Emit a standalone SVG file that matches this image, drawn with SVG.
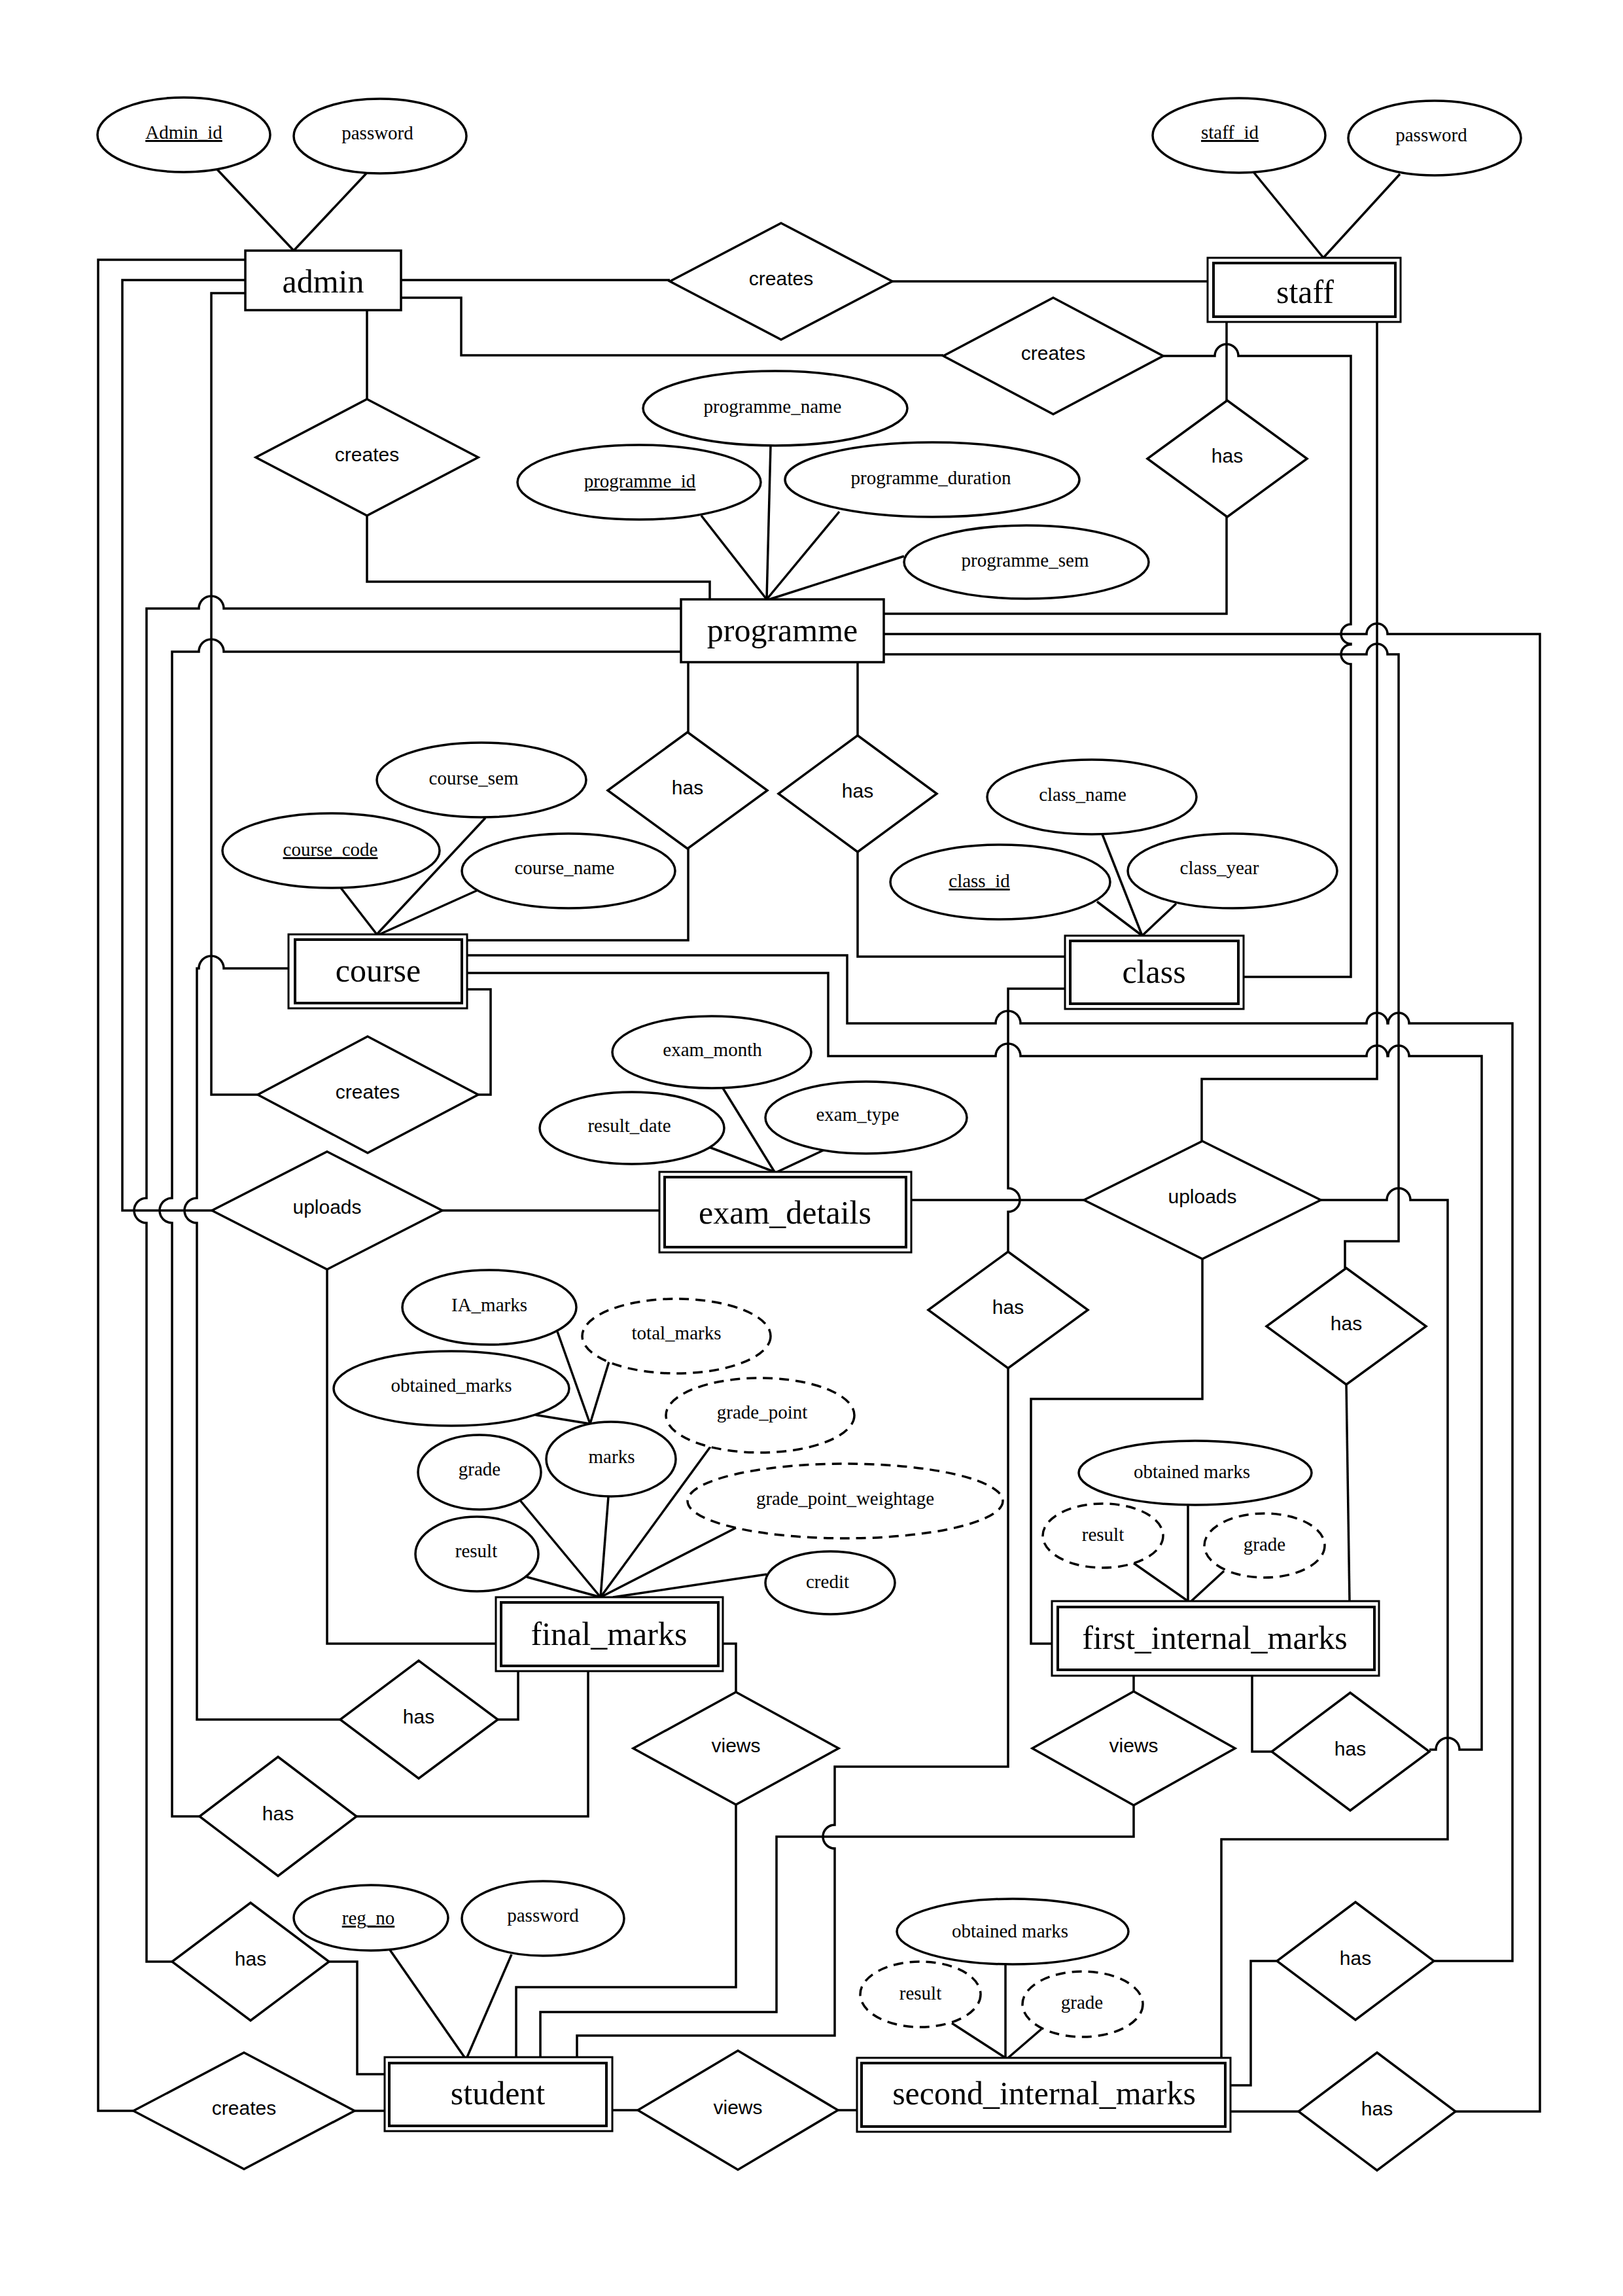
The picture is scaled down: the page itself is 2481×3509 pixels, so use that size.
<svg xmlns="http://www.w3.org/2000/svg" width="2481" height="3509" viewBox="0 0 2481 3509">
<style>
.bg{fill:#fff}
#connectors path{fill:none;stroke:#000;stroke-width:3.5;stroke-linejoin:miter}
.e{fill:#fff;stroke:#000;stroke-width:3.5}
.dash{stroke-dasharray:15 10}
.rel{fill:#fff;stroke:#000;stroke-width:3.5;stroke-linejoin:miter}
.ent{fill:#fff;stroke:#000;stroke-width:3.5}
.entout{fill:#fff;stroke:#000;stroke-width:3}
.entin{fill:none;stroke:#000;stroke-width:4}
.ta{font-family:"Liberation Serif","Times New Roman",serif;font-size:29px;text-anchor:middle;fill:#000}
.te{font-family:"Liberation Serif","Times New Roman",serif;font-size:50px;text-anchor:middle;fill:#000}
.tr{font-family:"Liberation Sans",Arial,sans-serif;font-size:30px;text-anchor:middle;fill:#000}
.u{text-decoration:underline}
</style>
<rect class="bg" x="0" y="0" width="2481" height="3509"/>
<g id="connectors">
<path d="M332,259 L449,383"/>
<path d="M560,265 L449,383"/>
<path d="M1917,264 L2023,394"/>
<path d="M2140,266 L2023,394"/>
<path d="M613,428 H1024"/>
<path d="M1364,430 H1846"/>
<path d="M613,455 H705 V543 H1442"/>
<path d="M1778,544 H1857 A18,18 0 0 1 1893,544 H2065 V954 A15,15 0 0 0 2065,984 V985 A15,15 0 0 0 2065,1015 V1493 H1901"/>
<path d="M1875,492 V612"/>
<path d="M1875,790 V938 H1351"/>
<path d="M2105,492 V1649 H1837 V1744"/>
<path d="M561,474 V610"/>
<path d="M561,788 V889 H1085 V916"/>
<path d="M1072,788 L1172,916"/>
<path d="M1178,681 L1172,916"/>
<path d="M1283,782 L1172,916"/>
<path d="M1382,850 L1176,916"/>
<path d="M375,397 H150 V3226 H204"/>
<path d="M542,3226 H588"/>
<path d="M375,428 H187 V1850 H324"/>
<path d="M676,1850 H1008"/>
<path d="M500,1940 V2512 H758"/>
<path d="M375,448 H323 V1673 H394"/>
<path d="M731,1673 H750 V1512 H714"/>
<path d="M1041,930 H342 A19,19 0 0 0 304,930 H224 V1831 A19,19 0 0 0 224,1869 V2998 H263"/>
<path d="M503,2998 H546 V3170 H588"/>
<path d="M1041,996 H342 A19,19 0 0 0 304,996 H263 V1831 A19,19 0 0 0 263,1869 V2776 H305"/>
<path d="M545,2776 H899 V2554"/>
<path d="M441,1480 H342 A19,19 0 0 0 304,1480 H301 V1831 A19,19 0 0 0 301,1869 V2628 H520"/>
<path d="M761,2628 H792 V2554"/>
<path d="M1052,1012 V1119"/>
<path d="M1052,1297 V1437 H714"/>
<path d="M1311,1012 V1124"/>
<path d="M1311,1302 V1462 H1628"/>
<path d="M521,1357 L576,1428"/>
<path d="M742,1250 L576,1428"/>
<path d="M729,1361 L580,1428"/>
<path d="M1677,1378 L1746,1430"/>
<path d="M1685,1275 L1746,1430"/>
<path d="M1798,1381 L1746,1430"/>
<path d="M714,1460 H1295 V1564 H1522 A19,19 0 0 1 1560,1564 H2089 A16,16 0 0 1 2121,1564 H2122 A16,16 0 0 1 2154,1564 H2312 V2997 H2192"/>
<path d="M1952,2997 H1912 V3187 H1881"/>
<path d="M714,1487 H1266 V1614 H1522 A19,19 0 0 1 1560,1614 H2089 A16,16 0 0 1 2121,1614 H2122 A16,16 0 0 1 2154,1614 H2265 V2674 H2231 A18,18 0 0 0 2195,2674 H2185"/>
<path d="M1944,2677 H1914 V2561"/>
<path d="M1351,969 H2089 A16,16 0 0 1 2121,969 H2354 V3227 H2225"/>
<path d="M1985,3227 H1881"/>
<path d="M1351,1000 H2089 A16,16 0 0 1 2121,1000 H2138 V1897 H2056 V1938"/>
<path d="M2058,2116 L2063,2447"/>
<path d="M1628,1511 H1541 V1816 A18,18 0 0 1 1541,1852 V1913"/>
<path d="M1541,2091 V2700 H1276 V2789 A18,18 0 0 0 1276,2825 V3111 H882 V3144"/>
<path d="M1105,1663 L1184,1791"/>
<path d="M1081,1752 L1184,1791"/>
<path d="M1265,1755 L1188,1791"/>
<path d="M1393,1834 H1657"/>
<path d="M1838,1924 V2138 H1576 V2512 H1608"/>
<path d="M2019,1834 H2120 A18,18 0 0 1 2156,1834 H2213 V2811 H1867 V3145"/>
<path d="M852,2035 L902,2176"/>
<path d="M931,2081 L902,2176"/>
<path d="M816,2162 L902,2176"/>
<path d="M930,2287 L918,2441"/>
<path d="M795,2293 L918,2441"/>
<path d="M805,2410 L918,2441"/>
<path d="M1086,2211 L918,2441"/>
<path d="M1125,2335 L918,2441"/>
<path d="M1172,2406 L937,2441"/>
<path d="M1105,2512 H1125 V2586"/>
<path d="M1125,2758 V3037 H789 V3144"/>
<path d="M1733,2561 V2585"/>
<path d="M1733,2759 V2807 H1187 V3075 H826 V3144"/>
<path d="M936,3225 H975"/>
<path d="M1281,3225 H1310"/>
<path d="M596,2980 L710,3144"/>
<path d="M782,2987 L714,3144"/>
<path d="M1816,2300 V2447"/>
<path d="M1733,2389 L1816,2447"/>
<path d="M1871,2401 L1821,2447"/>
<path d="M1537,3002 V3145"/>
<path d="M1455,3092 L1537,3145"/>
<path d="M1592,3101 L1541,3145"/>
</g>
<g id="admin"><rect class="ent" x="375" y="383" width="238" height="91"/><text class="te" x="494" y="447">admin</text></g>
<g id="staff"><rect class="entout" x="1846" y="394" width="295" height="98"/><rect class="entin" x="1855" y="402" width="278" height="82"/><text class="te" x="1995" y="463">staff</text></g>
<g id="programme"><rect class="ent" x="1041" y="916" width="310" height="96"/><text class="te" x="1196" y="980">programme</text></g>
<g id="course"><rect class="entout" x="441" y="1428" width="273" height="113"/><rect class="entin" x="451" y="1436" width="255" height="97"/><text class="te" x="578" y="1500">course</text></g>
<g id="class"><rect class="entout" x="1628" y="1430" width="273" height="112"/><rect class="entin" x="1636" y="1438" width="257" height="96"/><text class="te" x="1764" y="1502">class</text></g>
<g id="exam_details"><rect class="entout" x="1008" y="1791" width="385" height="123"/><rect class="entin" x="1016" y="1799" width="369" height="107"/><text class="te" x="1200" y="1870">exam_details</text></g>
<g id="final_marks"><rect class="entout" x="758" y="2441" width="347" height="113"/><rect class="entin" x="766" y="2449" width="332" height="97"/><text class="te" x="931" y="2514">final_marks</text></g>
<g id="first_internal_marks"><rect class="entout" x="1608" y="2447" width="500" height="114"/><rect class="entin" x="1617" y="2456" width="484" height="96"/><text class="te" x="1857" y="2520">first_internal_marks</text></g>
<g id="student"><rect class="entout" x="588" y="3144" width="348" height="113"/><rect class="entin" x="595" y="3153" width="332" height="96"/><text class="te" x="761" y="3216">student</text></g>
<g id="second_internal_marks"><rect class="entout" x="1310" y="3145" width="571" height="113"/><rect class="entin" x="1317" y="3153" width="556" height="97"/><text class="te" x="1596" y="3216">second_internal_marks</text></g>
<g id="attr_admin_id"><ellipse class="e" cx="281" cy="206" rx="132" ry="57"/><text class="ta u" x="281" y="212">Admin_id</text></g>
<g id="attr_admin_password"><ellipse class="e" cx="581" cy="208" rx="132" ry="57"/><text class="ta" x="577" y="213">password</text></g>
<g id="attr_staff_id"><ellipse class="e" cx="1894" cy="207" rx="132" ry="57"/><text class="ta u" x="1880" y="212">staff_id</text></g>
<g id="attr_staff_password"><ellipse class="e" cx="2193" cy="211" rx="132" ry="57"/><text class="ta" x="2188" y="216">password</text></g>
<g id="attr_programme_name"><ellipse class="e" cx="1185" cy="624" rx="202" ry="57"/><text class="ta" x="1181" y="631">programme_name</text></g>
<g id="attr_programme_id"><ellipse class="e" cx="977" cy="737" rx="186" ry="57"/><text class="ta u" x="978" y="745">programme_id</text></g>
<g id="attr_programme_duration"><ellipse class="e" cx="1425" cy="733" rx="225" ry="57"/><text class="ta" x="1423" y="740">programme_duration</text></g>
<g id="attr_programme_sem"><ellipse class="e" cx="1569" cy="859" rx="187" ry="56"/><text class="ta" x="1567" y="866">programme_sem</text></g>
<g id="attr_course_sem"><ellipse class="e" cx="736" cy="1192" rx="160" ry="57"/><text class="ta" x="724" y="1199">course_sem</text></g>
<g id="attr_course_code"><ellipse class="e" cx="506" cy="1300" rx="166" ry="57"/><text class="ta u" x="505" y="1308">course_code</text></g>
<g id="attr_course_name"><ellipse class="e" cx="869" cy="1331" rx="163" ry="57"/><text class="ta" x="863" y="1336">course_name</text></g>
<g id="attr_class_name"><ellipse class="e" cx="1669" cy="1218" rx="160" ry="57"/><text class="ta" x="1655" y="1224">class_name</text></g>
<g id="attr_class_id"><ellipse class="e" cx="1529" cy="1348" rx="168" ry="57"/><text class="ta u" x="1497" y="1356">class_id</text></g>
<g id="attr_class_year"><ellipse class="e" cx="1884" cy="1331" rx="160" ry="57"/><text class="ta" x="1864" y="1336">class_year</text></g>
<g id="attr_exam_month"><ellipse class="e" cx="1088" cy="1608" rx="152" ry="55"/><text class="ta" x="1089" y="1614">exam_month</text></g>
<g id="attr_result_date"><ellipse class="e" cx="966" cy="1724" rx="141" ry="55"/><text class="ta" x="962" y="1730">result_date</text></g>
<g id="attr_exam_type"><ellipse class="e" cx="1324" cy="1708" rx="154" ry="55"/><text class="ta" x="1311" y="1713">exam_type</text></g>
<g id="attr_ia_marks"><ellipse class="e" cx="748" cy="1998" rx="133" ry="57"/><text class="ta" x="748" y="2004">IA_marks</text></g>
<g id="attr_total_marks"><ellipse class="e dash" cx="1034" cy="2042" rx="144" ry="57"/><text class="ta" x="1034" y="2047">total_marks</text></g>
<g id="attr_obtained_marks"><ellipse class="e" cx="690" cy="2122" rx="180" ry="57"/><text class="ta" x="690" y="2127">obtained_marks</text></g>
<g id="attr_grade_point"><ellipse class="e dash" cx="1162" cy="2163" rx="144" ry="57"/><text class="ta" x="1165" y="2168">grade_point</text></g>
<g id="attr_marks"><ellipse class="e" cx="934" cy="2230" rx="99" ry="57"/><text class="ta" x="935" y="2236">marks</text></g>
<g id="attr_grade"><ellipse class="e" cx="733" cy="2250" rx="94" ry="57"/><text class="ta" x="733" y="2255">grade</text></g>
<g id="attr_grade_point_weightage"><ellipse class="e dash" cx="1292" cy="2294" rx="241" ry="57"/><text class="ta" x="1292" y="2300">grade_point_weightage</text></g>
<g id="attr_result"><ellipse class="e" cx="729" cy="2375" rx="94" ry="57"/><text class="ta" x="728" y="2380">result</text></g>
<g id="attr_credit"><ellipse class="e" cx="1269" cy="2419" rx="99" ry="48"/><text class="ta" x="1265" y="2427">credit</text></g>
<g id="attr_first_obtained"><ellipse class="e" cx="1827" cy="2251" rx="178" ry="49"/><text class="ta" x="1822" y="2259">obtained marks</text></g>
<g id="attr_first_result"><ellipse class="e dash" cx="1686" cy="2347" rx="92" ry="49"/><text class="ta" x="1686" y="2355">result</text></g>
<g id="attr_first_grade"><ellipse class="e dash" cx="1933" cy="2362" rx="92" ry="49"/><text class="ta" x="1933" y="2370">grade</text></g>
<g id="attr_reg_no"><ellipse class="e" cx="567" cy="2931" rx="118" ry="50"/><text class="ta u" x="563" y="2941">reg_no</text></g>
<g id="attr_student_password"><ellipse class="e" cx="830" cy="2932" rx="124" ry="57"/><text class="ta" x="830" y="2937">password</text></g>
<g id="attr_second_obtained"><ellipse class="e" cx="1548" cy="2952" rx="177" ry="50"/><text class="ta" x="1544" y="2961">obtained marks</text></g>
<g id="attr_second_result"><ellipse class="e dash" cx="1407" cy="3048" rx="92" ry="50"/><text class="ta" x="1407" y="3056">result</text></g>
<g id="attr_second_grade"><ellipse class="e dash" cx="1655" cy="3063" rx="92" ry="50"/><text class="ta" x="1654" y="3070">grade</text></g>
<g id="rel_admin_creates_staff"><polygon class="rel" points="1194,341 1364,430 1194,519 1024,430"/><text class="tr" x="1194" y="436">creates</text></g>
<g id="rel_admin_creates_class"><polygon class="rel" points="1610,455 1778,544 1610,633 1442,544"/><text class="tr" x="1610" y="550">creates</text></g>
<g id="rel_staff_has_programme"><polygon class="rel" points="1876,612 1998,701 1876,790 1754,701"/><text class="tr" x="1876" y="707">has</text></g>
<g id="rel_admin_creates_programme"><polygon class="rel" points="561,610 731,699 561,788 391,699"/><text class="tr" x="561" y="705">creates</text></g>
<g id="rel_programme_has_course"><polygon class="rel" points="1051,1119 1173,1208 1051,1297 929,1208"/><text class="tr" x="1051" y="1214">has</text></g>
<g id="rel_programme_has_class"><polygon class="rel" points="1311,1124 1432,1213 1311,1302 1190,1213"/><text class="tr" x="1311" y="1219">has</text></g>
<g id="rel_admin_creates_course"><polygon class="rel" points="562,1584 731,1673 562,1762 394,1673"/><text class="tr" x="562" y="1679">creates</text></g>
<g id="rel_admin_uploads"><polygon class="rel" points="500,1760 676,1850 500,1940 324,1850"/><text class="tr" x="500" y="1855">uploads</text></g>
<g id="rel_staff_uploads"><polygon class="rel" points="1838,1744 2019,1834 1838,1924 1657,1834"/><text class="tr" x="1838" y="1839">uploads</text></g>
<g id="rel_class_has_student"><polygon class="rel" points="1541,1913 1663,2002 1541,2091 1419,2002"/><text class="tr" x="1541" y="2008">has</text></g>
<g id="rel_programme_has_first"><polygon class="rel" points="2058,1938 2180,2027 2058,2116 1936,2027"/><text class="tr" x="2058" y="2033">has</text></g>
<g id="rel_course_has_final"><polygon class="rel" points="640,2538 761,2628 640,2718 520,2628"/><text class="tr" x="640" y="2634">has</text></g>
<g id="rel_final_views"><polygon class="rel" points="1125,2586 1282,2672 1125,2758 968,2672"/><text class="tr" x="1125" y="2678">views</text></g>
<g id="rel_first_views"><polygon class="rel" points="1733,2585 1888,2672 1733,2759 1578,2672"/><text class="tr" x="1733" y="2678">views</text></g>
<g id="rel_course_has_first"><polygon class="rel" points="2064,2587 2185,2677 2064,2767 1944,2677"/><text class="tr" x="2064" y="2683">has</text></g>
<g id="rel_programme_has_final"><polygon class="rel" points="425,2685 545,2776 425,2867 305,2776"/><text class="tr" x="425" y="2782">has</text></g>
<g id="rel_programme_has_student"><polygon class="rel" points="383,2908 503,2998 383,3088 263,2998"/><text class="tr" x="383" y="3004">has</text></g>
<g id="rel_course_has_second"><polygon class="rel" points="2072,2907 2192,2997 2072,3087 1952,2997"/><text class="tr" x="2072" y="3003">has</text></g>
<g id="rel_admin_creates_student"><polygon class="rel" points="373,3137 542,3226 373,3315 204,3226"/><text class="tr" x="373" y="3232">creates</text></g>
<g id="rel_student_views"><polygon class="rel" points="1128,3134 1281,3225 1128,3316 975,3225"/><text class="tr" x="1128" y="3231">views</text></g>
<g id="rel_programme_has_second"><polygon class="rel" points="2105,3137 2225,3227 2105,3317 1985,3227"/><text class="tr" x="2105" y="3233">has</text></g>
</svg>
